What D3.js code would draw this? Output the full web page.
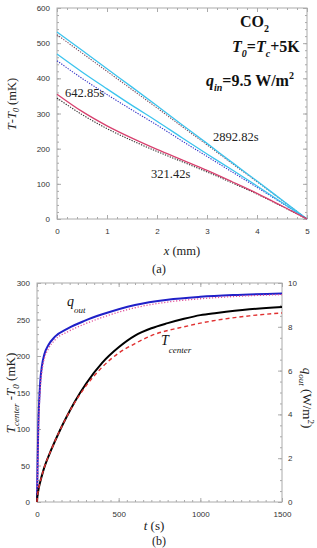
<!DOCTYPE html>
<html><head><meta charset="utf-8">
<script src="https://cdn.jsdelivr.net/npm/d3@7"></script>
<style>body{margin:0;background:#fff}svg{display:block}</style>
</head><body><svg id="c" width="317" height="548"></svg>
<script>
// ---------- Data (a): temperature profiles ----------
const xA = [0,0.5,1,1.5,2,2.5,3,3.5,4,4.5,5];
const cyanTop    = [532,480,427,375,322,268,215,161,108,54,0];
const cyanTopDot = [524,472,420,368,316,263,211,158,106,53,0];
const cyanMid    = [469,418,370,323,278,231,185,140,94,47,0];
const cyanMidDot = [450,400,354,310,267,222,178,134,90,45,0];
const redSolid   = [355,306,265,230,198,168,138,106,73,37,0];
const redDot     = [344,297,257,223,192,163,134,103,71,36,0];
const xTicksA = [0,1,2,3,4,5];
const yTicksA = [0,100,200,300,400,500,600];
const timeLabels = ["642.85s","2892.82s","321.42s"];

// ---------- Data (b): transient ----------
const tQ      = [0,3,8,14,20,30,45,70,110,190,290,400,600,800,1000,1200,1500];
const qOut    = [0,1.5,3.5,4.7,5.5,6.2,6.75,7.17,7.55,7.93,8.27,8.57,9.0,9.24,9.37,9.45,9.52];
const qOutDot = [0,1.1,3.0,4.3,5.2,5.95,6.55,7.0,7.4,7.78,8.12,8.43,8.87,9.13,9.28,9.38,9.47];
const tT          = [0,2,5,10,18,40,90,140,180,233,300,400,500,600,700,800,900,1000,1100,1300,1500];
const tCenter     = [0,7,12,18,26,44,73,98,116,138,162,191,212,228,238,245,251,256,259,264,267];
const tCenterDash = [0,7,12,18,26,44,73,98,116,137,159,185,204,217,228,235,240,245,249,255,259];
const xTicksB = [0,500,1000,1500];
const yTicksB = [0,50,100,150,200,250,300];
const yRTicksB = [0,2,4,6,8,10];

const svg = d3.select("#c");
const SANS = "Liberation Sans, Arial, sans-serif";
const SERIF = "Liberation Serif, Times New Roman, serif";
const frameCol = "#aaa";
const fmtInt = d3.format("d");

function range(a,b,s){const r=[];for(let v=a;v<=b+1e-9;v+=s)r.push(+v.toFixed(6));return r;}

function boxAxes(g, x, y, opts){
  const [x0,x1]=x.range(), [y0,y1]=y.range();
  const style = sel => {
    sel.select(".domain").remove();
    sel.selectAll("line").attr("stroke",frameCol);
    sel.selectAll("text").attr("font-family",SANS).attr("font-size",8).attr("fill","#333");
  };
  const mk = (axisFn, scale, vals, size, fmt, pad, tr) => {
    const a = axisFn(scale).tickValues(vals).tickSizeInner(-size).tickSizeOuter(0).tickPadding(pad).tickFormat(fmt);
    g.append("g").attr("transform",tr).call(a).call(style);
  };
  const none = () => "";
  mk(d3.axisBottom, x, opts.xMinor, 2, none, 0, `translate(0,${y0})`);
  mk(d3.axisBottom, x, opts.xMajor, 4, fmtInt, 9, `translate(0,${y0})`);
  mk(d3.axisTop, x, opts.xMinor, 2, none, 0, `translate(0,${y1})`);
  mk(d3.axisTop, x, opts.xMajor, 4, none, 0, `translate(0,${y1})`);
  mk(d3.axisLeft, y, opts.yMinor, 2, none, 0, `translate(${x0},0)`);
  mk(d3.axisLeft, y, opts.yMajor, 4, fmtInt, 7, `translate(${x0},0)`);
  const yr = opts.yR || y;
  mk(d3.axisRight, yr, opts.yRMinor || opts.yMinor, 2, none, 0, `translate(${x1},0)`);
  mk(d3.axisRight, yr, opts.yRMajor || opts.yMajor, 4, opts.yR ? fmtInt : none, 6, `translate(${x1},0)`);
  g.append("rect").attr("x",x0).attr("y",y1).attr("width",x1-x0).attr("height",y0-y1)
    .attr("fill","none").attr("stroke",frameCol).attr("stroke-width",1);
}

// ================= Chart (a) =================
const xa = d3.scaleLinear().domain([0,5]).range([57,307]);
const ya = d3.scaleLinear().domain([0,600]).range([219,8]);
const ga = svg.append("g");
boxAxes(ga, xa, ya, {xMajor:xTicksA, xMinor:range(0,5,0.2), yMajor:yTicksA, yMinor:range(0,600,20)});

const lineA = d3.line().x(d=>xa(d[0])).y(d=>ya(d[1])).curve(d3.curveMonotoneX);
const seriesA = [
  {v:cyanTopDot, c:"#7a4a5e", w:1.1, dash:"1.3,1.3"},
  {v:cyanTop,    c:"#3cc4ee", w:1.3},
  {v:cyanMidDot, c:"#3434c8", w:1.1, dash:"1.3,1.3"},
  {v:cyanMid,    c:"#3cc4ee", w:1.3},
  {v:redDot,     c:"#333",    w:1.1, dash:"1.3,1.3"},
  {v:redSolid,   c:"#d8416f", w:1.3},
];
seriesA.forEach(s=>{
  ga.append("path").datum(xA.map((x,i)=>[x,s.v[i]]))
    .attr("d",lineA).attr("fill","none").attr("stroke",s.c).attr("stroke-width",s.w)
    .attr("stroke-dasharray",s.dash||null);
});
const tlPos = [[65,97],[213,141],[151,178]];
timeLabels.forEach((t,i)=>{
  ga.append("text").attr("x",tlPos[i][0]).attr("y",tlPos[i][1]).text(t)
    .attr("font-family",SERIF).attr("font-size",12.5).attr("fill","#222");
});
const ann = ga.append("g").attr("font-family",SERIF).attr("font-weight","bold").attr("fill","#111");
let t1 = ann.append("text").attr("x",240).attr("y",27).attr("font-size",16);
t1.append("tspan").text("CO");
t1.append("tspan").attr("font-size",10).attr("dy",5).text("2");
let t2 = ann.append("text").attr("x",232).attr("y",52).attr("font-size",16);
t2.append("tspan").attr("font-style","italic").text("T");
t2.append("tspan").attr("font-size",10).attr("font-style","italic").attr("dy",5).text("0");
t2.append("tspan").attr("dy",-5).text("=");
t2.append("tspan").attr("font-style","italic").text("T");
t2.append("tspan").attr("font-size",10).attr("font-style","italic").attr("dy",5).text("c");
t2.append("tspan").attr("dy",-5).text("+5K");
let t3 = ann.append("text").attr("x",206).attr("y",86).attr("font-size",16);
t3.append("tspan").attr("font-style","italic").text("q");
t3.append("tspan").attr("font-size",10).attr("font-style","italic").attr("dy",5).text("in");
t3.append("tspan").attr("dy",-5).text("=9.5 W/m");
t3.append("tspan").attr("font-size",10).attr("dy",-7).text("2");

let xl = ga.append("text").attr("x",182).attr("y",255).attr("text-anchor","middle")
  .attr("font-family",SERIF).attr("font-size",12.5).attr("fill","#222");
xl.append("tspan").attr("font-style","italic").text("x");
xl.append("tspan").text(" (mm)");
let yl = ga.append("text").attr("transform","translate(16,104) rotate(-90)").attr("text-anchor","middle")
  .attr("font-family",SERIF).attr("font-size",12.5).attr("fill","#222");
yl.append("tspan").attr("font-style","italic").text("T");
yl.append("tspan").text("-");
yl.append("tspan").attr("font-style","italic").text("T");
yl.append("tspan").attr("font-size",8).attr("font-style","italic").attr("dy",3).text("0");
yl.append("tspan").attr("dy",-3).text(" (mK)");
ga.append("text").attr("x",159).attr("y",273).attr("text-anchor","middle")
  .attr("font-family",SERIF).attr("font-size",12.5).attr("fill","#222").text("(a)");

// ================= Chart (b) =================
const xb = d3.scaleLinear().domain([0,1500]).range([37,282]);
const yb = d3.scaleLinear().domain([0,300]).range([502,283]);
const ybr = d3.scaleLinear().domain([0,10]).range([502,283]);
const gb = svg.append("g");
boxAxes(gb, xb, yb, {xMajor:xTicksB, xMinor:range(0,1500,50), yMajor:yTicksB, yMinor:range(0,300,10),
  yR:ybr, yRMajor:yRTicksB, yRMinor:range(0,10,0.5)});

const lineQ = d3.line().x(d=>xb(d[0])).y(d=>ybr(d[1])).curve(d3.curveMonotoneX);
const lineT = d3.line().x(d=>xb(d[0])).y(d=>yb(d[1])).curve(d3.curveMonotoneX);
gb.append("path").datum(tQ.map((t,i)=>[t,qOut[i]])).attr("d",lineQ)
  .attr("fill","none").attr("stroke","#2020c8").attr("stroke-width",2);
gb.append("path").datum(tQ.map((t,i)=>[t,qOutDot[i]])).attr("d",lineQ)
  .attr("fill","none").attr("stroke","#e0509a").attr("stroke-width",1.3).attr("stroke-dasharray","1.2,1.8");
gb.append("path").datum(tT.map((t,i)=>[t,tCenter[i]])).attr("d",lineT)
  .attr("fill","none").attr("stroke","#000").attr("stroke-width",2);
gb.append("path").datum(tT.map((t,i)=>[t,tCenterDash[i]])).attr("d",lineT)
  .attr("fill","none").attr("stroke","#e03030").attr("stroke-width",1.4).attr("stroke-dasharray","4,3");

let qa = gb.append("text").attr("x",67).attr("y",306).attr("font-family",SERIF).attr("font-style","italic")
  .attr("font-size",14).attr("fill","#111");
qa.append("tspan").text("q");
qa.append("tspan").attr("font-size",9).attr("dy",7).text("out");
let ta = gb.append("text").attr("x",161).attr("y",345).attr("font-family",SERIF).attr("font-style","italic")
  .attr("font-size",14).attr("fill","#111");
ta.append("tspan").text("T");
ta.append("tspan").attr("font-size",9).attr("dy",8).text("center");

let xlb = gb.append("text").attr("x",154).attr("y",530).attr("text-anchor","middle")
  .attr("font-family",SERIF).attr("font-size",13).attr("fill","#222");
xlb.append("tspan").attr("font-style","italic").text("t");
xlb.append("tspan").text(" (s)");
gb.append("text").attr("x",159).attr("y",545).attr("text-anchor","middle")
  .attr("font-family",SERIF).attr("font-size",12).attr("fill","#222").text("(b)");

let ylb = gb.append("text").attr("transform","translate(15,393) rotate(-90)").attr("text-anchor","middle")
  .attr("font-family",SERIF).attr("font-size",13).attr("fill","#222");
ylb.append("tspan").attr("font-style","italic").text("T");
ylb.append("tspan").attr("font-size",9).attr("font-style","italic").attr("dy",4).text("center");
ylb.append("tspan").attr("dy",-4).text(" -");
ylb.append("tspan").attr("font-style","italic").text("T");
ylb.append("tspan").attr("font-size",9).attr("font-style","italic").attr("dy",4).text("0");
ylb.append("tspan").attr("dy",-4).text(" (mK)");

let yrb = gb.append("text").attr("transform","translate(303,398) rotate(90)").attr("text-anchor","middle")
  .attr("font-family",SERIF).attr("font-size",13).attr("fill","#222");
yrb.append("tspan").attr("font-style","italic").text("q");
yrb.append("tspan").attr("font-size",9).attr("font-style","italic").attr("dy",4).text("out");
yrb.append("tspan").attr("dy",-4).text(" (W/m");
yrb.append("tspan").attr("font-size",9).attr("dy",-5).text("2");
yrb.append("tspan").attr("dy",5).text(")");
</script></body></html>
